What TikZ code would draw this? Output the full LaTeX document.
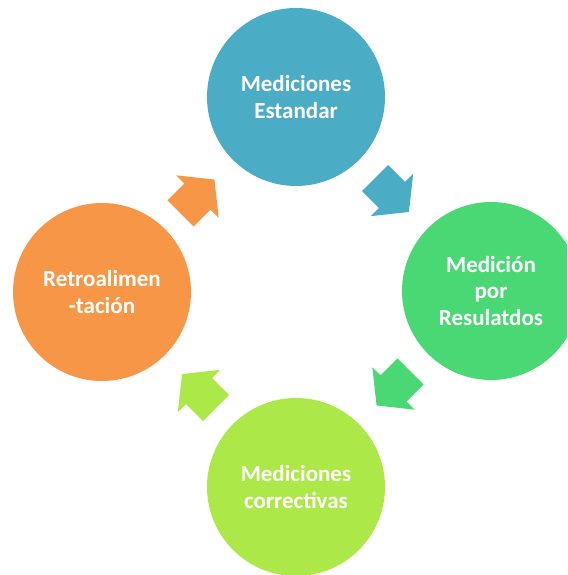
\documentclass[tikz,border=0pt]{standalone}
\usepackage{fontspec}
\setmainfont{Carlito}
\definecolor{cblue}{RGB}{75,172,198}
\definecolor{cgreen}{RGB}{74,216,116}
\definecolor{clime}{RGB}{172,232,72}
\definecolor{corange}{RGB}{247,150,70}
\tikzset{
  stagecircle/.style={circle, minimum size=178pt, inner sep=0pt, align=center,
    text=white, font=\fontsize{23}{26.5}\selectfont\bfseries},
  cyclearrow/.pic={\fill (0,-18.5) -- (24,-18.5) -- (24,-30) -- (48,0) -- (24,30) -- (24,18.5) -- (0,18.5) -- cycle;}
}
\begin{document}
\begin{tikzpicture}[x=1pt,y=1pt]
\useasboundingbox (0,0) rectangle (567,-575);
\begin{scope}
\clip (0,0) rectangle (567,-575);
\node[stagecircle, fill=cblue] (a) at (296,-97) {Mediciones\\Estandar};
\node[stagecircle, fill=cgreen] (b) at (491,-291) {Medición\\por\\Resulatdos};
\node[stagecircle, fill=clime] (c) at (296,-487) {Mediciones\\correctivas};
\node[stagecircle, fill=corange] (d) at (102,-292) {Retroalimen\\-tación};
\coordinate (ab) at (375,-178);
\coordinate (bc) at (410.5,-371.5);
\coordinate (cd) at (216,-408);
\coordinate (da) at (180.5,-213.5);
\pic[fill=cblue, rotate=-45] at (ab) {cyclearrow};
\pic[fill=cgreen, rotate=-135] at (bc) {cyclearrow};
\pic[fill=clime, rotate=135] at (cd) {cyclearrow};
\pic[fill=corange, rotate=45] at (da) {cyclearrow};
\end{scope}
\end{tikzpicture}
\end{document}
